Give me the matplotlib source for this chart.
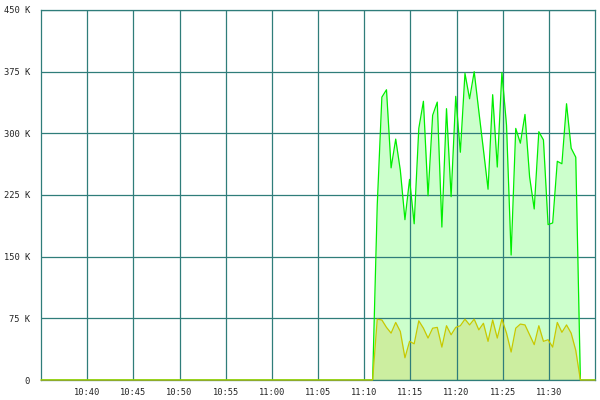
import numpy as np
import pandas as pd
import matplotlib
matplotlib.use("Agg")
import matplotlib.pyplot as plt
import matplotlib.dates as mdates
from matplotlib.ticker import FuncFormatter

# ---- data (values in K, one sample every 30 s from 11:10:55) ----
day = "2024-01-01 "
sample_start = pd.Timestamp(day + "11:10:55")
green_vals = [0, 213, 344, 353, 258, 293, 255, 195, 244, 190, 306, 339,
              224, 322, 338, 186, 330, 223, 345, 277, 373, 342, 375, 327,
              280, 232, 347, 259, 374, 310, 152, 306, 288, 323, 247, 208,
              302, 292, 189, 191, 266, 263, 336, 282, 271, 0]
yellow_vals = [0, 74, 73, 64, 57, 70, 59, 27, 47, 44, 72, 63,
               51, 63, 64, 40, 66, 55, 64, 66, 74, 67, 74, 61,
               69, 47, 73, 51, 74, 57, 34, 63, 68, 67, 55, 43,
               66, 47, 49, 40, 70, 58, 67, 57, 36, 0]
t_begin = pd.Timestamp(day + "10:35")
t_end = pd.Timestamp(day + "11:35")
x_ticks = ["10:40", "10:45", "10:50", "10:55", "11:00", "11:05",
           "11:10", "11:15", "11:20", "11:25", "11:30"]
y_ticks = [0, 75, 150, 225, 300, 375, 450]

times = pd.date_range(sample_start, periods=len(green_vals), freq="30s")
t = [t_begin] + list(times) + [t_end]
green = np.array([0] + green_vals + [0]) * 1000
yellow = np.array([0] + yellow_vals + [0]) * 1000

grid_col = "#2f7d7a"

fig = plt.figure(figsize=(6, 4), dpi=100)
ax = fig.add_axes([41 / 600, 20 / 400, 554 / 600, 370 / 400])

ax.fill_between(t, green, color="#ccffcc", lw=0, zorder=1)
ax.fill_between(t, yellow, color="#cceea0", lw=0, zorder=1.5)
ax.plot(t, green, color="#00ee00", lw=0.9, zorder=3)
ax.plot(t, yellow, color="#c8c800", lw=0.9, zorder=3.5, clip_on=False)

ax.set_xlim(t_begin, t_end)
ax.set_ylim(0, 450000)
ax.set_xticks([pd.Timestamp(day + s) for s in x_ticks])
ax.xaxis.set_major_formatter(mdates.DateFormatter("%H:%M"))
ax.set_yticks([v * 1000 for v in y_ticks])
ax.yaxis.set_major_formatter(FuncFormatter(lambda v, p: "0" if v == 0 else "%d K" % (v / 1000)))

ax.grid(True, color=grid_col, lw=0.9, zorder=2)
ax.set_axisbelow(False)
for s in ax.spines.values():
    s.set_color(grid_col)
    s.set_linewidth(0.9)
    s.set_zorder(2)
ax.tick_params(length=0, labelsize=6.3, labelcolor="#222222")
ax.tick_params(axis="x", pad=6)
ax.tick_params(axis="y", pad=8)
for lab in ax.get_xticklabels() + ax.get_yticklabels():
    lab.set_family("DejaVu Sans Mono")

fig.savefig("out.png", dpi=100)
